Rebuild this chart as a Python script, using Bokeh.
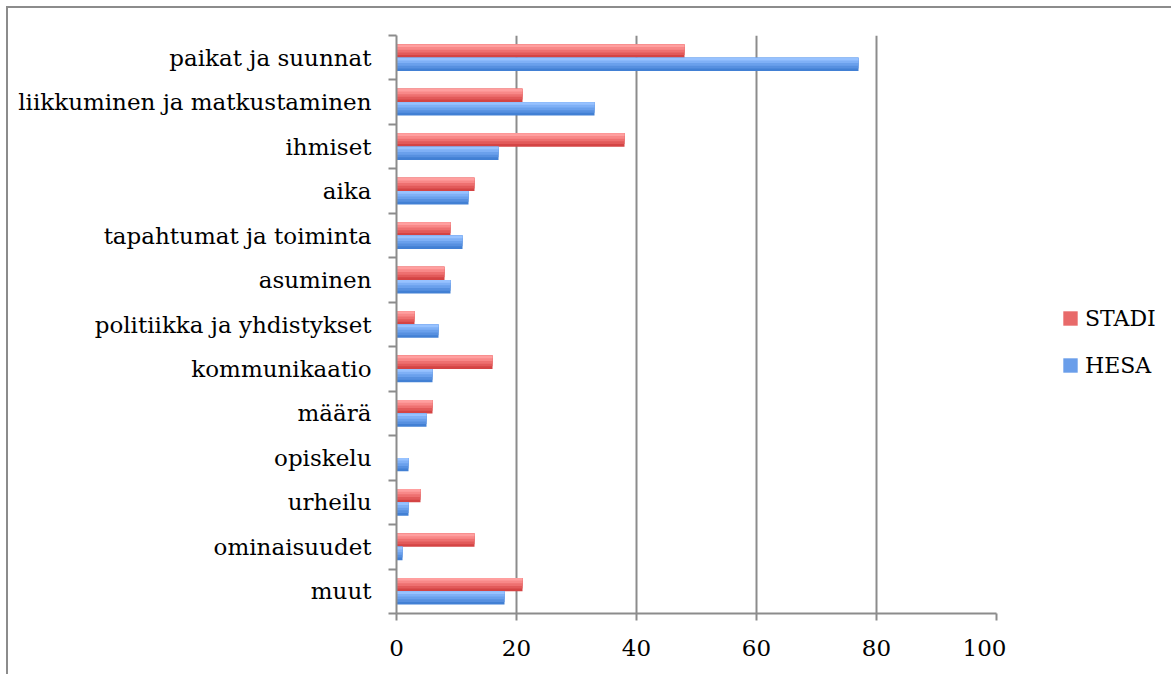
from bokeh.plotting import figure
from bokeh.layouts import row
from bokeh.models import FixedTicker, Legend, LegendItem, Range1d
from bokeh.embed import file_html
from bokeh.resources import INLINE

categories = ["paikat ja suunnat", "liikkuminen ja matkustaminen", "ihmiset", "aika",
              "tapahtumat ja toiminta", "asuminen", "politiikka ja yhdistykset",
              "kommunikaatio", "määrä", "opiskelu", "urheilu", "ominaisuudet", "muut"]
stadi = [48, 21, 38, 13, 9, 8, 3, 16, 6, 0, 4, 13, 21]
hesa = [77, 33, 17, 12, 11, 9, 7, 6, 5, 2, 2, 1, 18]
x_ticks = [0, 20, 40, 60, 80, 100]
series_names = ["STADI", "HESA"]

FONT = "DejaVu Serif"
n = len(categories)
# category centres: first category at top
centres = [n - i - 0.5 for i in range(n)]

p = figure(width=998, height=666, output_backend="svg", toolbar_location=None,
           x_range=Range1d(0, 100), y_range=Range1d(0, n),
           min_border_left=388, min_border_right=10, min_border_top=27, min_border_bottom=61)
p.outline_line_color = None

# gradient-like bars: overlapping top-anchored bars, darkest (full) first
red_cols = ["#d44444", "#e25a5a", "#ee7070", "#f88888", "#ff9f9f"]
blue_cols = ["#4280d4", "#5790e0", "#6aa0ec", "#7fb0f6", "#97c2ff"]
bar_h = 0.3
steps = len(red_cols)
for k in range(steps):
    h = bar_h * (steps - k) / steps
    yr = [c + bar_h - h / 2 for c in centres]
    yb = [c - h / 2 for c in centres]
    p.hbar(y=yr, right=stadi, left=0, height=h, fill_color=red_cols[k], line_color=None)
    p.hbar(y=yb, right=hesa, left=0, height=h, fill_color=blue_cols[k], line_color=None)

# axes
xa = p.xaxis[0]
xa.ticker = FixedTicker(ticks=x_ticks)
xa.axis_line_color = "#8c8c8c"
xa.axis_line_width = 2
xa.major_tick_line_color = "#8c8c8c"
xa.major_tick_line_width = 2
xa.major_tick_in = 0
xa.major_tick_out = 7
xa.minor_tick_line_color = None
xa.major_label_text_font = FONT
xa.major_label_text_font_size = "23px"
xa.major_label_text_color = "#000000"
xa.major_label_standoff = 19

ya = p.yaxis[0]
ya.ticker = FixedTicker(ticks=centres, minor_ticks=list(range(n + 1)))
ya.major_label_overrides = {c: lab for c, lab in zip(centres, categories)}
ya.axis_line_color = "#8c8c8c"
ya.axis_line_width = 2
ya.major_tick_line_color = None
ya.major_tick_out = 0
ya.major_tick_in = 0
ya.minor_tick_line_color = "#8c8c8c"
ya.minor_tick_line_width = 2
ya.minor_tick_in = 0
ya.minor_tick_out = 8
ya.major_label_text_font = FONT
ya.major_label_text_font_size = "23px"
ya.major_label_text_color = "#000000"
ya.major_label_standoff = 17

p.xgrid.ticker = FixedTicker(ticks=x_ticks[1:])
p.xgrid.grid_line_color = "#8c8c8c"
p.xgrid.grid_line_width = 2
p.ygrid.grid_line_color = None

# legend panel (renderers hold the data but lie outside this panel's ranges)
p2 = figure(width=165, height=666, output_backend="svg", toolbar_location=None,
            x_range=Range1d(-20, -10), y_range=Range1d(0, 1),
            min_border_left=0, min_border_right=0, min_border_top=0, min_border_bottom=0)
p2.axis.visible = False
p2.grid.grid_line_color = None
p2.outline_line_color = None
lr = p2.hbar(y=centres, right=stadi, left=0, height=0.3, fill_color="#e86a6a", line_color=None)
lb = p2.hbar(y=centres, right=hesa, left=0, height=0.3, fill_color="#6a9eea", line_color=None)

legend = Legend(items=[LegendItem(label=series_names[0], renderers=[lr]),
                       LegendItem(label=series_names[1], renderers=[lb])],
                location=(55, 235), orientation="vertical")
legend.border_line_color = None
legend.background_fill_alpha = 0
legend.padding = 0
legend.margin = 0
legend.glyph_width = 18
legend.glyph_height = 18
legend.label_height = 26
legend.spacing = 21
legend.label_standoff = 6
legend.label_text_font = FONT
legend.label_text_font_size = "22px"
legend.label_text_color = "#000000"
p2.add_layout(legend, "center")

layout = row(p, p2, styles={"margin-left": "6px", "margin-top": "6px",
                            "border-top": "2px solid #8c8c8c",
                            "border-left": "2px solid #8c8c8c"})

open("out.html", "w").write(file_html(layout, INLINE))
